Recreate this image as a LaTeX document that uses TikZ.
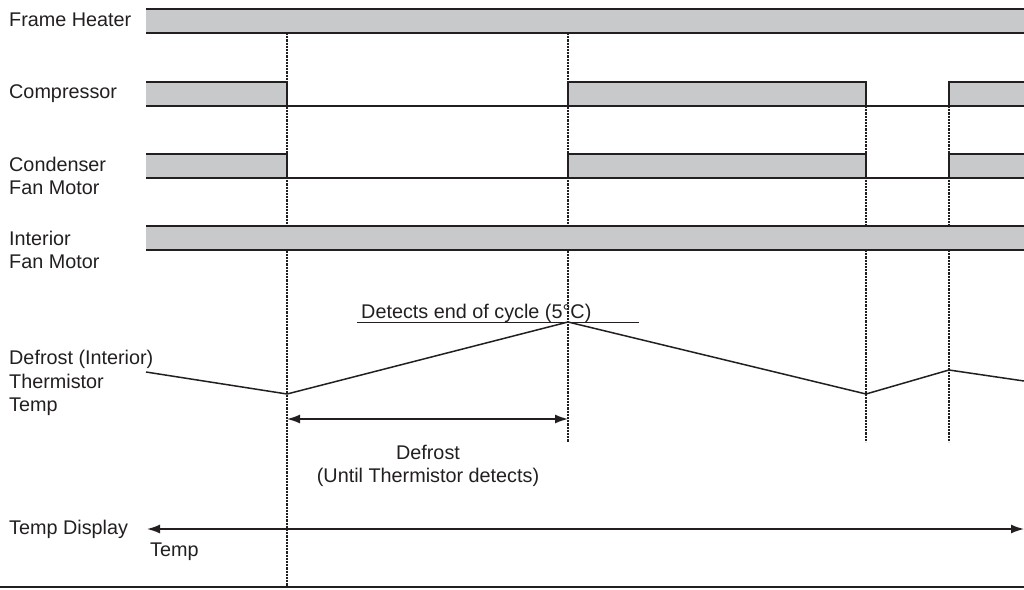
\documentclass[tikz,border=0pt]{standalone}
\usepackage{fontspec}
\setmainfont{Liberation Sans}
\usetikzlibrary{arrows.meta}
\definecolor{ink}{RGB}{35,31,32}
\definecolor{barfill}{RGB}{200,201,203}
\tikzset{
  every picture/.style={color=ink, font=\fontsize{19.8}{23.5}\selectfont},
  sig/.style={anchor=west, align=left, inner sep=0pt},
  caption/.style={inner sep=0pt, align=center},
  onbar/.style={fill=barfill, draw=none},
  edge/.style={line width=2.2pt},
  cut/.style={line width=2.6pt, dash pattern=on 2.2pt off 1pt},
  trace/.style={line width=1.5pt, line join=round},
  span/.style={{Latex[length=13pt,width=9pt]}-{Latex[length=13pt,width=9pt]}, line width=1.5pt},
}

\begin{document}
\begin{tikzpicture}[x=1pt, y=-1pt]
  \useasboundingbox (0,0) rectangle (1024,589);
  % switching instants, drawn as dotted cuts
  \draw[cut] (287,33) -- (287,587);
  \draw[cut] (568,33) -- (568,442);
  \draw[cut] (866,106) -- (866,442);
  \draw[cut] (949,106) -- (949,442);
  % frame heater and interior fan: always on
  \foreach \hi/\lo in {9/33, 226/250} {
    \fill[onbar] (146,\hi) rectangle (1024,\lo);
    \draw[edge] (146,\hi) -- (1024,\hi) (146,\lo) -- (1024,\lo);
  }
  % compressor and condenser fan: off during defrost
  \foreach \hi/\lo in {82/106, 154/178} {
    \fill[onbar] (146,\hi) rectangle (287,\lo) (568,\hi) rectangle (866,\lo) (949,\hi) rectangle (1024,\lo);
    \draw[edge] (146,\hi) -| (287,\lo) (568,\lo) |- (866,\hi) -- (866,\lo)
      (949,\lo) |- (1024,\hi) (146,\lo) -- (1024,\lo);
  }
  \node[sig] (heater) at (9,20)  {Frame Heater};
  \node[sig] (comp)   at (9,94)  {Compressor};
  \node[sig] (cond)   at (9,176) {Condenser\\Fan Motor};
  \node[sig] (fan)    at (9,250) {Interior\\Fan Motor};
  \node[sig] (therm)  at (9,383) {Defrost (Interior)\\Thermistor\\Temp};
  \node[sig] (disp)   at (9,529) {Temp Display};
  \node[sig] (temp)   at (150,552) {Temp};
  % thermistor temperature
  \coordinate (p0) at (146,372);
  \coordinate (p1) at (287,394);
  \coordinate (p2) at (568,322);
  \coordinate (p3) at (866,394);
  \coordinate (p4) at (949,370);
  \coordinate (p5) at (1024,381);
  \draw[trace] (p0) -- (p1) -- (p2) -- (p3) -- (p4) -- (p5);
  \node[caption, anchor=base west] (detect) at (361,318) {Detects end of cycle (5\textdegree C)};
  \draw[line width=1pt] (357,322) -- (639,322);
  % defrost period
  \coordinate (d0) at (287,419);
  \coordinate (d1) at (568,419);
  \draw[span] (d0) -- (d1);
  \node[caption] (defrost) at (428,466) {Defrost\\(Until Thermistor detects)};
  % display
  \coordinate (s0) at (147,529);
  \coordinate (s1) at (1024,529);
  \draw[span] (s0) -- (s1);
  \draw[line width=2.5pt] (0,587) -- (1024,587);
\end{tikzpicture}
\end{document}
